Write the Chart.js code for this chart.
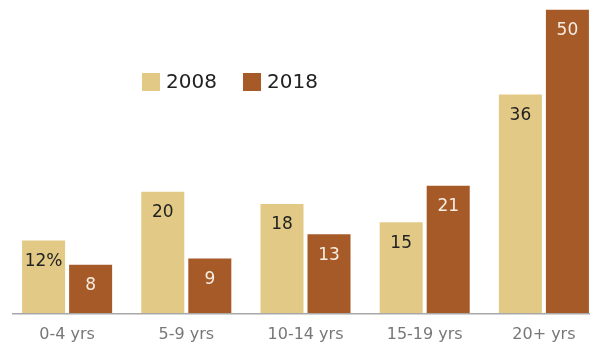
<!DOCTYPE html>
<html>
<head>
<meta charset="utf-8">
<script src="https://cdn.jsdelivr.net/npm/chart.js@4"></script>
<style>
  html, body { margin: 0; padding: 0; background: #fff; overflow: hidden; }
  #wrap { width: 604px; height: 346px; }
</style>
</head>
<body>
<div id="wrap"><canvas id="c" width="604" height="346"></canvas></div>
<script>
// tranches d'ancienneté, 2008 vs 2018
const categories = ['0-4 yrs', '5-9 yrs', '10-14 yrs', '15-19 yrs', '20+ yrs'];
const years = ['2008', '2018'];
const values2008 = [12, 20, 18, 15, 36];
const values2018 = [8, 9, 13, 21, 50];

const TAN = '#e2ca86';
const RUST = '#a65a28';
const AXIS_TEXT = '#777777';
const FONT = 'DejaVu Sans';

// étiquettes de valeurs dans le haut des barres
const valueLabels = {
  id: 'valueLabels',
  afterDatasetsDraw(chart) {
    const ctx = chart.ctx;
    ctx.save();
    ctx.font = `17px "${FONT}"`;
    ctx.textAlign = 'center';
    ctx.textBaseline = 'middle';
    chart.data.datasets.forEach((ds, i) => {
      const meta = chart.getDatasetMeta(i);
      meta.data.forEach((bar, j) => {
        const v = ds.data[j];
        const txt = (i === 0 && j === 0) ? v + '%' : String(v);
        ctx.fillStyle = i === 0 ? '#222222' : '#f7ece2';
        ctx.fillText(txt, bar.x, bar.y + 21);
      });
    });
    ctx.restore();
  }
};

// ligne de base + légende dans la zone du graphique
const baseAndLegend = {
  id: 'baseAndLegend',
  afterDraw(chart) {
    const ctx = chart.ctx;
    const y0 = chart.scales.y.getPixelForValue(0);
    ctx.save();
    ctx.strokeStyle = '#a8a8a8';
    ctx.lineWidth = 1.5;
    ctx.beginPath();
    ctx.moveTo(12, y0 + 0.5);
    ctx.lineTo(chart.width, y0 + 0.5);
    ctx.stroke();

    ctx.font = `20px "${FONT}"`;
    ctx.textBaseline = 'middle';
    ctx.textAlign = 'left';
    const xs = [142, 243];
    chart.data.datasets.forEach((ds, i) => {
      ctx.fillStyle = ds.backgroundColor;
      ctx.fillRect(xs[i], 73, 18, 18);
      ctx.fillStyle = '#222222';
      ctx.fillText(ds.label, xs[i] + 24, 83);
    });
    ctx.restore();
  }
};

new Chart(document.getElementById('c'), {
  type: 'bar',
  data: {
    labels: categories,
    datasets: [
      { label: years[0], data: values2008, backgroundColor: TAN },
      { label: years[1], data: values2018, backgroundColor: RUST }
    ]
  },
  options: {
    responsive: false,
    animation: false,
    devicePixelRatio: 1,
    categoryPercentage: 0.789,
    barPercentage: 0.915,
    layout: { padding: { left: 7.5, right: 0.5, top: 9.5, bottom: -10.5 } },
    plugins: {
      legend: { display: false },
      tooltip: { enabled: false }
    },
    scales: {
      x: {
        grid: { display: false, drawTicks: false },
        border: { display: false },
        ticks: { color: AXIS_TEXT, font: { family: FONT, size: 16 }, padding: 12 }
      },
      y: { display: false, min: 0, max: 50 }
    }
  },
  plugins: [valueLabels, baseAndLegend]
});
</script>
</body>
</html>
